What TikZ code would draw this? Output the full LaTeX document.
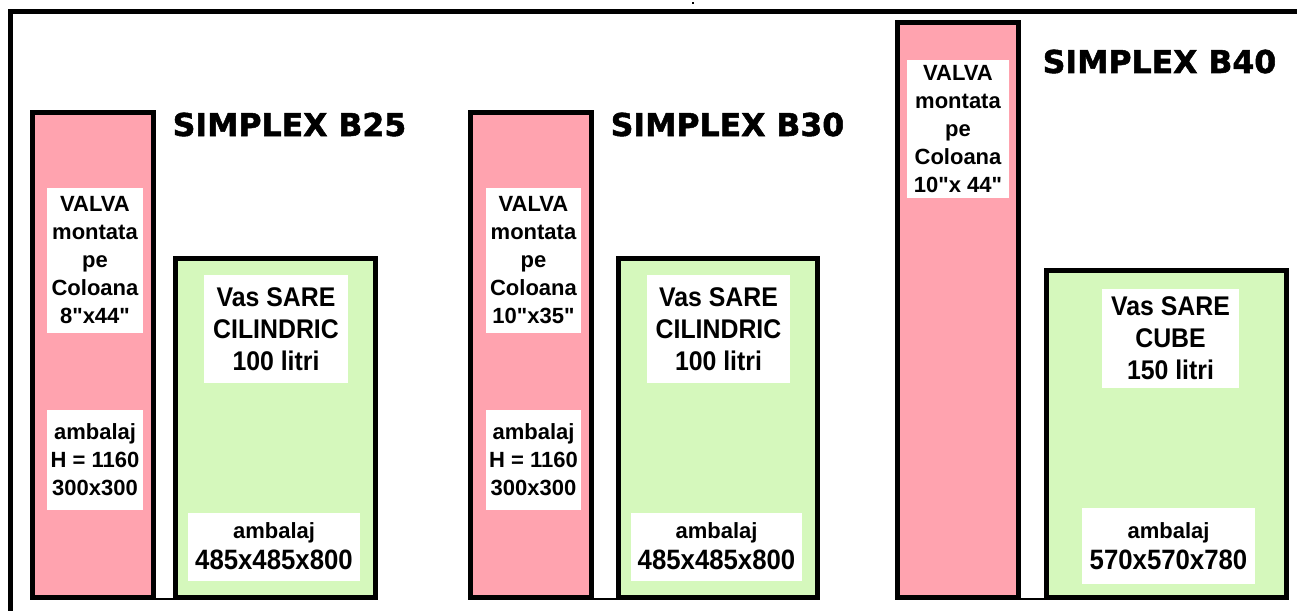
\documentclass[tikz,border=0pt]{standalone}
\usepackage{fontspec}
\setmainfont{Liberation Sans}
\newfontfamily\labfont[Ligatures=TeXOff]{Liberation Sans}
\newfontfamily\narrowfont[Ligatures=TeXOff,FakeStretch=0.92]{Liberation Sans}
\newfontfamily\titlefont[FakeBold=1.6]{DejaVu Sans}
\definecolor{pinkc}{RGB}{255,163,175}
\definecolor{greenc}{RGB}{213,248,188}
\begin{document}
\begin{tikzpicture}[x=1pt,y=-1pt,
  valve/.style={draw=black, line width=5pt, fill=pinkc, inner sep=0pt, outer sep=0pt, anchor=north west},
  tank/.style={draw=black, line width=5pt, fill=greenc, inner sep=0pt, outer sep=0pt, anchor=north west},
  tag/.style={fill=white, inner sep=0pt, align=center, font=\labfont\bfseries\fontsize{22}{28}\selectfont},
  bigtag/.style={fill=white, inner sep=0pt, align=center, font=\narrowfont\bfseries\fontsize{27}{32}\selectfont},
  title/.style={anchor=base, inner sep=0pt, font=\titlefont\bfseries\fontsize{31.5}{36}\selectfont},
  joint/.style={draw=black, line width=2pt}]
\useasboundingbox (0,0) rectangle (1297,610);
% frame
\draw[line width=5pt, line join=miter] (10,612) -- (10,12) -- (1299,12);
\fill (692,2) rectangle (694,4);

% ---- B25
\node[valve, minimum width=121pt, minimum height=485pt] (p25) at (32.5,112.5) {};
\node[tank, minimum width=200pt, minimum height=339pt] (g25) at (175.5,258.5) {};
\draw[joint] ([yshift=-1.5pt]p25.south east) -- ([yshift=-1.5pt]g25.south west);
\node[title] (t25) at (289.5,136) {SIMPLEX B25};
\node[tag, minimum width=96pt, minimum height=145pt] (v25) at (95,260.5) {VALVA\\montata\\pe\\Coloana\\ 8"x44"};
\node[tag, minimum width=96pt, minimum height=100pt] (a25) at (95,459.5) {ambalaj\\H = 1160\\300x300};
\node[bigtag, minimum width=144pt, minimum height=108pt] (s25) at (276,329) {Vas SARE\\CILINDRIC\\100 litri};
\node[tag, minimum width=172pt, minimum height=68pt] (b25) at (274,546.5) {ambalaj\\[3pt]{\narrowfont\fontsize{28}{33}\selectfont 485x485x800}};

% ---- B30
\node[valve, minimum width=121pt, minimum height=485pt] (p30) at (470.5,112.5) {};
\node[tank, minimum width=199pt, minimum height=339pt] (g30) at (618.5,258.5) {};
\draw[joint] ([yshift=-1.5pt]p30.south east) -- ([yshift=-1.5pt]g30.south west);
\node[title] (t30) at (727.5,136) {SIMPLEX B30};
\node[tag, minimum width=95pt, minimum height=145pt] (v30) at (533.5,260.5) {VALVA\\montata\\pe\\Coloana\\10"x35"};
\node[tag, minimum width=95pt, minimum height=100pt] (a30) at (533.5,459.5) {ambalaj\\H = 1160\\300x300};
\node[bigtag, minimum width=143pt, minimum height=108pt] (s30) at (718.5,329) {Vas SARE\\CILINDRIC\\100 litri};
\node[tag, minimum width=171pt, minimum height=68pt] (b30) at (716.5,546.5) {ambalaj\\[3pt]{\narrowfont\fontsize{28}{33}\selectfont 485x485x800}};

% ---- B40
\node[valve, minimum width=121pt, minimum height=575pt] (p40) at (897.5,22.5) {};
\node[tank, minimum width=240pt, minimum height=327pt] (g40) at (1046.5,270.5) {};
\draw[joint] ([yshift=-1.5pt]p40.south east) -- ([yshift=-1.5pt]g40.south west);
\node[title] (t40) at (1159.5,73) {SIMPLEX B40};
\node[tag, minimum width=102pt, minimum height=137pt] (v40) at (958,129) {VALVA\\montata\\pe\\Coloana\\ 10"x 44"};
\node[bigtag, minimum width=137pt, minimum height=99pt] (s40) at (1170.5,338.5) {Vas SARE\\CUBE\\150 litri};
\node[tag, minimum width=173pt, minimum height=76pt] (b40) at (1168.5,546) {ambalaj\\[3pt]{\narrowfont\fontsize{28}{33}\selectfont 570x570x780}};
\end{tikzpicture}
\end{document}
